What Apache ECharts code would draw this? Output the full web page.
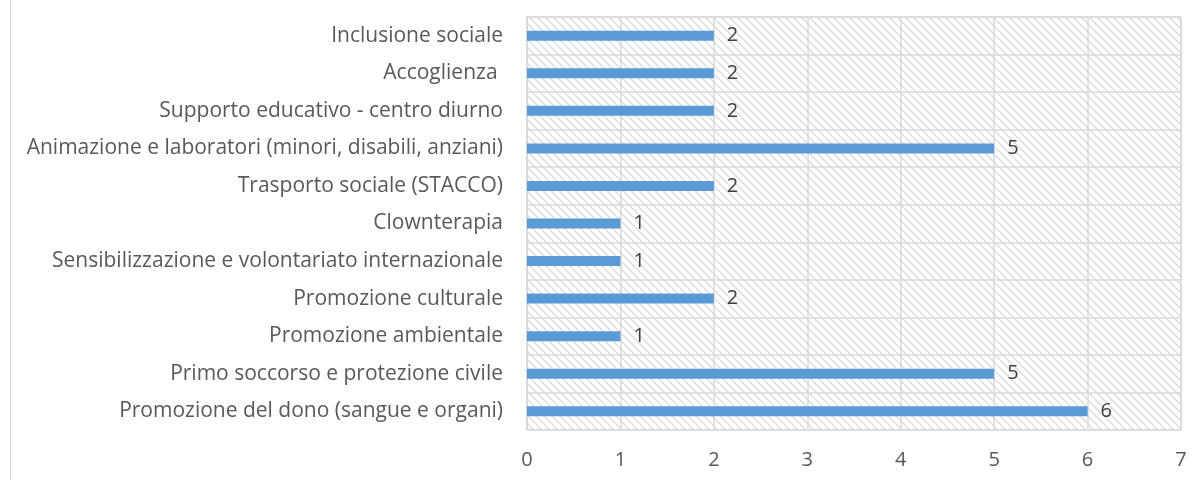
<!DOCTYPE html>
<html>
<head>
<meta charset="utf-8">
<script src="https://cdn.jsdelivr.net/npm/echarts@6/dist/echarts.min.js"></script>
<style>html,body{margin:0;padding:0;background:#fff}#c{width:1202px;height:480px}</style>
</head>
<body>
<div id="c"></div>
<script>
// Categories listed bottom to top
const categories = [
  "Promozione del dono (sangue e organi)",
  "Primo soccorso e protezione civile",
  "Promozione ambientale",
  "Promozione culturale",
  "Sensibilizzazione e volontariato internazionale",
  "Clownterapia",
  "Trasporto sociale (STACCO)",
  "Animazione e laboratori (minori, disabili, anziani)",
  "Supporto educativo - centro diurno",
  "Accoglienza ",
  "Inclusione sociale"
];
const values = [6, 5, 1, 2, 1, 1, 2, 5, 2, 2, 2];
const xTicks = [0, 1, 2, 3, 4, 5, 6, 7];

function hatch() {
  const s = 8;
  const cv = document.createElement('canvas');
  cv.width = s; cv.height = s;
  const ctx = cv.getContext('2d');
  ctx.fillStyle = '#ffffff';
  ctx.fillRect(0, 0, s, s);
  ctx.strokeStyle = '#dcdcdc';
  ctx.lineWidth = 1.4;
  ctx.beginPath();
  ctx.moveTo(-1, -1); ctx.lineTo(s + 1, s + 1);
  ctx.moveTo(-1, s - 1); ctx.lineTo(1, s + 1);
  ctx.moveTo(s - 1, -1); ctx.lineTo(s + 1, 1);
  ctx.stroke();
  return cv;
}

const font = "'Open Sans', 'Noto Sans', sans-serif";
const chart = echarts.init(document.getElementById('c'), null, {renderer: 'canvas'});
chart.setOption({
  animation: false,
  textStyle: {fontFamily: font},
  graphic: [{
    type: 'line', shape: {x1: 10.5, y1: 0, x2: 10.5, y2: 480},
    style: {stroke: '#d9d9d9', lineWidth: 1}
  }],
  grid: {
    left: 527, right: 21, top: 17, bottom: 50,
    show: true,
    backgroundColor: {image: hatch(), repeat: 'repeat'},
    borderColor: '#d9d9d9', borderWidth: 1
  },
  xAxis: {
    type: 'value', min: xTicks[0], max: xTicks[xTicks.length - 1], interval: 1,
    axisLine: {show: false}, axisTick: {show: false},
    axisLabel: {color: '#595959', fontSize: 20, margin: 20, fontFamily: font},
    splitLine: {show: true, lineStyle: {color: '#d9d9d9', width: 1.5}}
  },
  yAxis: {
    type: 'category', data: categories,
    axisLine: {show: true, lineStyle: {color: '#d9d9d9', width: 1.5}},
    axisTick: {show: false},
    axisLabel: {color: '#595959', fontSize: 21, margin: 24, fontFamily: font},
    splitLine: {show: true, lineStyle: {color: '#d9d9d9', width: 1.5}}
  },
  series: [{
    type: 'bar', data: values, barWidth: 10,
    itemStyle: {color: '#5b9bd5'},
    label: {show: true, position: 'right', distance: 13, color: '#404040', fontSize: 20, fontFamily: font}
  }]
});
</script>
</body>
</html>
